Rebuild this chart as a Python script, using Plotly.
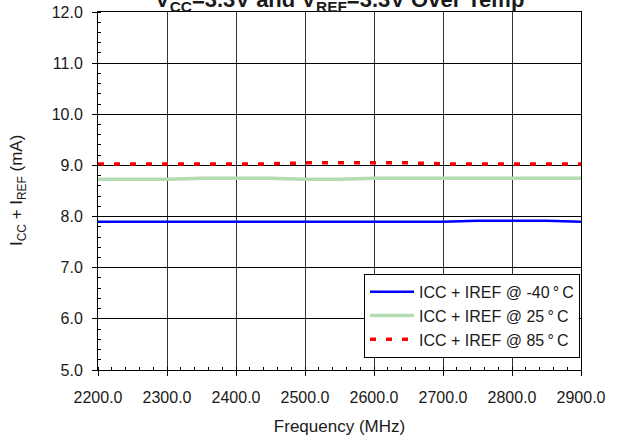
import plotly.graph_objects as go

freq = [2200, 2250, 2300, 2350, 2400, 2450, 2500, 2550, 2600, 2650, 2700, 2750, 2800, 2850, 2900]
icc_m40 = [7.90, 7.90, 7.90, 7.90, 7.90, 7.90, 7.90, 7.90, 7.90, 7.90, 7.90, 7.92, 7.92, 7.92, 7.90]
icc_25 = [8.73, 8.73, 8.73, 8.75, 8.75, 8.75, 8.73, 8.73, 8.75, 8.75, 8.75, 8.75, 8.75, 8.75, 8.75]
icc_85 = [9.03, 9.03, 9.03, 9.03, 9.03, 9.03, 9.05, 9.05, 9.05, 9.05, 9.03, 9.03, 9.03, 9.03, 9.03]

x_ticks = [2200, 2300, 2400, 2500, 2600, 2700, 2800, 2900]
y_ticks = [5, 6, 7, 8, 9, 10, 11, 12]

FONT = "Liberation Sans"
TXT = "#1a1a1a"
DEG = "\u2009°\u2009C"

fig = go.Figure()
fig.add_trace(go.Scatter(x=freq, y=icc_m40, mode="lines", name="ICC + IREF @ -40" + DEG,
                         line=dict(color="#0000ff", width=2.5)))
fig.add_trace(go.Scatter(x=freq, y=icc_25, mode="lines", name="ICC + IREF @ 25" + DEG,
                         line=dict(color="#b3dcb3", width=3.5)))
fig.add_trace(go.Scatter(x=freq, y=icc_85, mode="lines", name="ICC + IREF @ 85" + DEG,
                         line=dict(color="#ff0000", width=3.5, dash="6px,10px")))

fig.update_layout(
    width=619, height=440,
    margin=dict(l=98, r=38, t=12, b=70, autoexpand=False),
    paper_bgcolor="white", plot_bgcolor="white",
    font=dict(family=FONT, size=15, color=TXT),
    showlegend=True,
    legend=dict(x=0.998, xanchor="right", y=0.034, yanchor="bottom",
                bgcolor="white", bordercolor="black", borderwidth=1,
                font=dict(family=FONT, size=16, color=TXT),
                tracegroupgap=0, itemwidth=44),
    annotations=[
        dict(text="<b>V<sub>CC</sub>=3.3V and V<sub>REF</sub>=3.3V Over Temp</b>",
             x=0.5, xref="paper", y=1, yref="paper", yanchor="bottom",
             yshift=-5, showarrow=False, font=dict(family=FONT, size=22, color=TXT)),
        dict(text="I<sub>CC</sub> + I<sub>REF</sub> (mA)", textangle=-90,
             x=0, xref="paper", y=0.5, yref="paper", xanchor="center", yanchor="middle",
             xshift=-80, showarrow=False, font=dict(family=FONT, size=17, color=TXT)),
    ],
)

fig.update_xaxes(
    range=[2200, 2900], tickvals=x_ticks, ticktext=[f"{v:.1f}" for v in x_ticks],
    showgrid=True, gridcolor="#333", gridwidth=1,
    showline=True, linecolor="black", linewidth=1, mirror=True,
    ticks="outside", ticklen=5, tickcolor="black", ticklabelstandoff=8,
    minor=dict(dtick=20, ticks="inside", ticklen=3, tickcolor="black", showgrid=False),
    title=dict(text="Frequency (MHz)", font=dict(family=FONT, size=17, color=TXT), standoff=14),
    tickfont=dict(family=FONT, size=16, color=TXT),
    zeroline=False, automargin=False,
)
fig.update_yaxes(
    range=[5, 12], tickvals=y_ticks, ticktext=[f"{v:.1f}" for v in y_ticks],
    showgrid=True, gridcolor="black", gridwidth=1,
    showline=True, linecolor="black", linewidth=1, mirror=True,
    ticks="outside", ticklen=5, tickcolor="black", ticklabelstandoff=6,
    minor=dict(dtick=0.2, ticks="inside", ticklen=3, tickcolor="black", showgrid=False),
    tickfont=dict(family=FONT, size=16, color=TXT),
    zeroline=False, automargin=False,
)

fig.write_html("out.html", config={"displayModeBar": False},
               post_script="document.body.style.margin='0';")
